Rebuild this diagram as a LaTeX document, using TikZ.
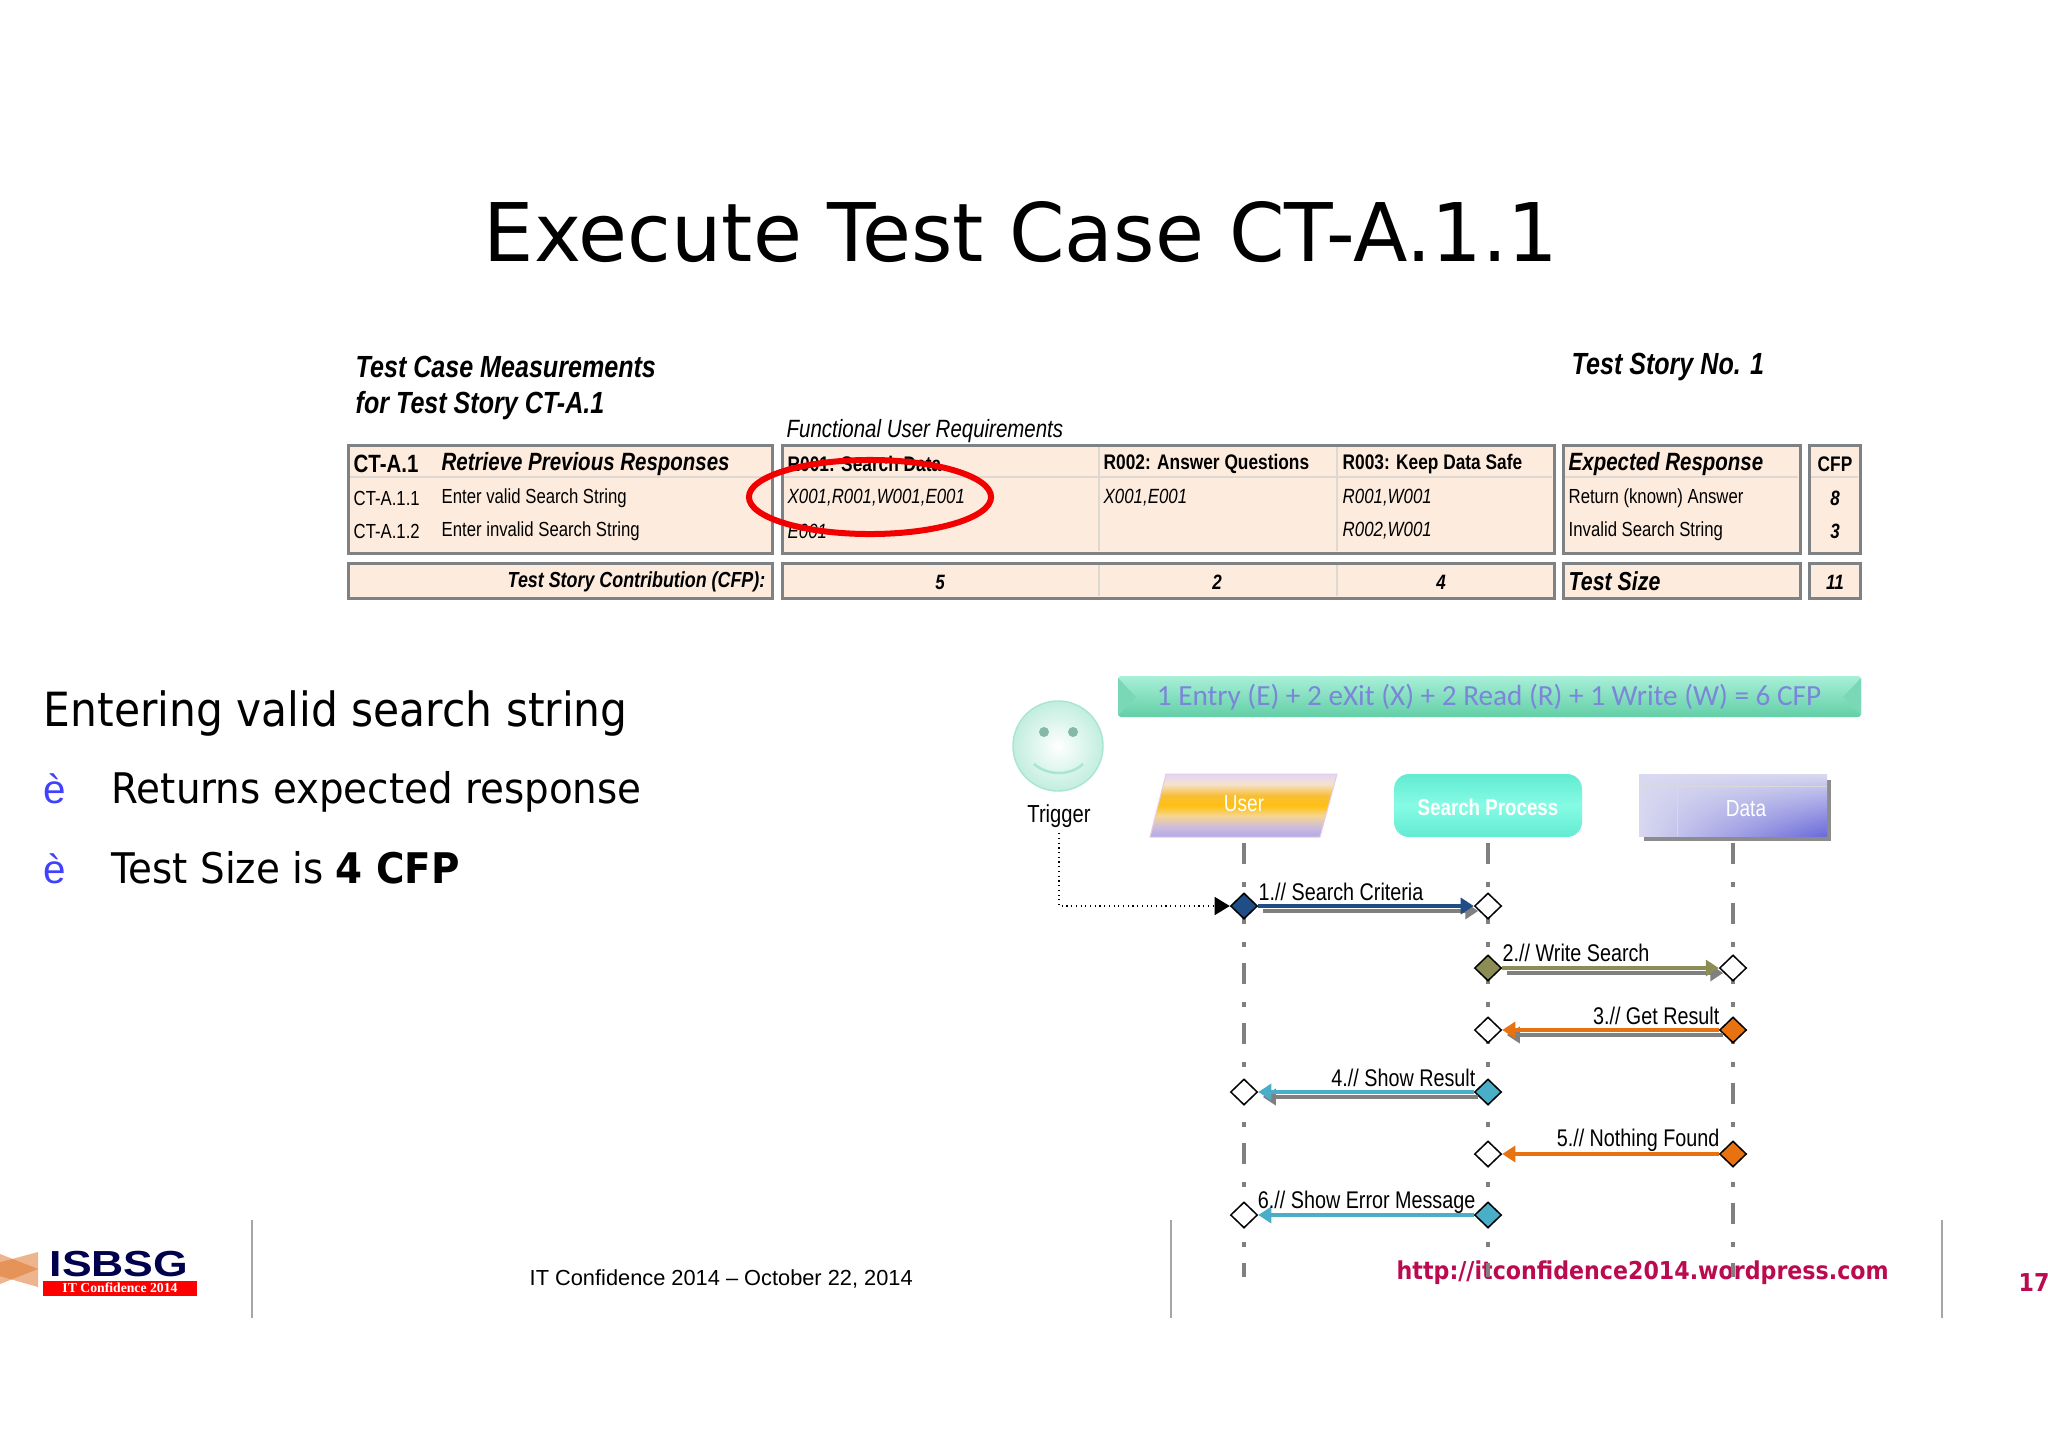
\documentclass[tikz,border=0pt]{standalone}
\usepackage{fontspec}
\setmainfont[FakeStretch=.9]{DejaVu Sans}
\newfontfamily\titlefont[FakeStretch=.984]{DejaVu Sans}
\newfontfamily\slidefont[FakeStretch=.92]{DejaVu Sans}
\newfontfamily\tablefont[FakeStretch=.82]{Liberation Sans}
\newfontfamily\arialfont{Liberation Sans}
\newfontfamily\bannerfont{Carlito}
\newfontfamily\logofont[FakeStretch=1.23]{Liberation Sans}
\newfontfamily\logoserif{Liberation Serif}
\usetikzlibrary{arrows.meta,shapes.geometric,positioning,shadings}
\definecolor{tablefill}{HTML}{FDEBDD}
\definecolor{tableline}{HTML}{7F8284}
\definecolor{tablediv}{HTML}{DDD8D2}
\definecolor{msgnavy}{HTML}{1F4E86}
\definecolor{msgolive}{HTML}{8C8C55}
\definecolor{msgorange}{HTML}{E8720F}
\definecolor{msgteal}{HTML}{4AAEC8}
\definecolor{urlred}{HTML}{BB0A50}
\definecolor{usera}{HTML}{B0A8E8}
\definecolor{userb}{HTML}{CDBCDD}
\definecolor{userc}{HTML}{F6D58E}
\definecolor{userd}{HTML}{FFC010}
\definecolor{usere}{HTML}{F8BE36}
\definecolor{userf}{HTML}{F6E2CC}
\definecolor{userg}{HTML}{E2D4F6}
\definecolor{searcha}{HTML}{62EBD2}
\definecolor{searchb}{HTML}{86FBE4}
\definecolor{bannertop}{HTML}{A8EFD8}
\definecolor{bannerbot}{HTML}{62CFA6}
\definecolor{bannerside}{HTML}{7AD8B6}
\definecolor{bannertext}{HTML}{7B86DA}
\definecolor{datadark}{HTML}{6A6ADA}
\definecolor{datalight}{HTML}{D8D8F0}
\definecolor{smileedge}{HTML}{A8E6D2}
\definecolor{logoorange}{HTML}{E07830}
\pgfdeclareverticalshading{usershade}{100bp}{color(0bp)=(usera);color(25bp)=(usera);color(33bp)=(userb);color(42bp)=(userc);color(50bp)=(userd);color(58bp)=(usere);color(67bp)=(userf);color(75bp)=(userg);color(100bp)=(userg)}
\pgfdeclareverticalshading{searchshade}{100bp}{color(0bp)=(searcha);color(25bp)=(searcha);color(50bp)=(searchb);color(75bp)=(searcha);color(100bp)=(searcha)}

\begin{document}
\begin{tikzpicture}[x=0.01cm,y=-0.01cm]
	\tikzstyle{tblbox}=[draw=tableline,line width=.03cm,fill=tablefill]
	\tikzstyle{tbldiv}=[draw=tablediv,line width=.012cm]
	\tikzstyle{head}=[anchor=west,inner sep=0pt,font=\tablefont\bfseries\itshape\fontsize{8.7}{10}\selectfont]
	\tikzstyle{cellbig}=[anchor=west,inner sep=0pt,font=\tablefont\bfseries\itshape\fontsize{7.1}{8}\selectfont]
	\tikzstyle{cell}=[anchor=west,inner sep=0pt,font=\tablefont\fontsize{5.8}{7}\selectfont]
	\tikzstyle{cellit}=[anchor=west,inner sep=0pt,font=\tablefont\itshape\fontsize{5.85}{7}\selectfont]
	\tikzstyle{cellbf}=[anchor=west,inner sep=0pt,font=\tablefont\bfseries\fontsize{6}{7}\selectfont]
	\tikzstyle{cellnum}=[inner sep=0pt,font=\tablefont\bfseries\itshape\fontsize{5.9}{7}\selectfont]
	\tikzstyle{slide}=[anchor=base west,inner sep=0pt,font=\slidefont\fontsize{12}{16}\selectfont]
	\tikzstyle{bullet}=[anchor=base west,inner sep=0pt,text=blue!75!white,font=\arialfont\fontsize{11.5}{14}\selectfont]
	\tikzstyle{lifeline}=[draw=black!50,line width=.045cm,dash pattern=on .21cm off .18cm on .05cm off .16cm]
	\tikzstyle{point}=[diamond,draw=black,line width=.015cm,minimum width=.27cm,minimum height=.26cm,inner sep=0pt]
	\tikzstyle{msg}=[line width=.035cm,-{Triangle[length=.13cm,width=.16cm]}]
	\tikzstyle{msgshadow}=[msg,draw=black!50,transform canvas={xshift=.045cm,yshift=-.05cm}]
	\tikzstyle{msgtext}=[inner sep=0pt,font=\tablefont\fontsize{6.85}{8}\selectfont]

	\useasboundingbox (0,0) rectangle (2048,1448);
	\fill[white] (0,0) rectangle (2048,1448);

	% heading and slide text
	\node[inner sep=0pt,font=\titlefont\fontsize{23}{28}\selectfont] (title) at (1021,232) {Execute Test Case CT-A.1.1};
	\node[slide,font=\fontsize{13.4}{16}\selectfont] (line1) at (43,726) {Entering valid search string};
	\node[bullet] (bull2) at (43,803) {è};
	\node[slide] (line2) at (111,803) {Returns expected response};
	\node[bullet] (bull3) at (43,883) {è};
	\node[slide] (line3) at (111,883) {Test Size is \textbf{4 CFP}};

	% table
	\foreach \a/\b/\c/\d in {348/445/772/553,782/445/1554/553,1563/445/1800/553,1809/445/1860/553,348/563/772/598,782/563/1554/598,1563/563/1800/598,1809/563/1860/598}
	\draw[tblbox] (\a,\b) rectangle (\c,\d);
	\foreach \a/\b in {348/772,782/1554,1563/1800,1809/1860}
	\draw[tbldiv] (\a+2,477) -- (\b-2,477);
	\foreach \a in {1099,1337}{
		\draw[tbldiv] (\a,447) -- (\a,551);
		\draw[tbldiv] (\a,565) -- (\a,596);
	}

	\node[head] (story) at (355,367) {Test Case Measurements};
	\node[head] (story2) at (355,406) {for Test Story CT-A.1};
	\node[head] (storyno) at (1571,367) {Test Story No. 1};
	\node[anchor=west,inner sep=0pt,font=\tablefont\itshape\fontsize{7.1}{8}\selectfont] (fur) at (786,431) {Functional User Requirements};

	\node[cellbig,font=\tablefont\bfseries\fontsize{7.1}{8}\selectfont] (ca) at (353,464) {CT-A.1};
	\node[cellbig] (cb) at (441,464) {Retrieve Previous Responses};
	\node[cellbf] (r1) at (787,464) {R001: Search Data};
	\node[cellbf] (r2) at (1103,464) {R002: Answer Questions};
	\node[cellbf] (r3) at (1342,464) {R003: Keep Data Safe};
	\node[cellbig] (er) at (1568,464) {Expected Response};
	\node[cellbf,anchor=center] (cfp) at (1835,464) {CFP};

	\foreach \n/\xx/\yy/\t in {a1/353/498/CT-A.1.1,a2/353/531/CT-A.1.2,b1/441/498/Enter valid Search String,b2/441/531/Enter invalid Search String,e1/1568/498/Return (known) Answer,e2/1568/531/Invalid Search String}
	\node[cell] (\n) at (\xx,\yy) {\t};
	\foreach \n/\xx/\yy/\t in {c1/787/498/{X001,R001,W001,E001},c2/787/531/E001,d1/1103/498/{X001,E001},f1/1342/498/{R001,W001},f2/1342/531/{R002,W001}}
	\node[cellit] (\n) at (\xx,\yy) {\t};
	\foreach \n/\xx/\yy/\t in {g1/1835/498/8,g2/1835/531/3,t1/940/582/5,t2/1217/582/2,t3/1441/582/4,t4/1835/582/11}
	\node[cellnum] (\n) at (\xx,\yy) {\t};
	\node[cellnum,anchor=east,font=\tablefont\bfseries\itshape\fontsize{6.2}{7}\selectfont] (contrib) at (766,582) {Test Story Contribution (CFP):};
	\node[cellbig,font=\tablefont\bfseries\itshape\fontsize{7.4}{8}\selectfont] (tsize) at (1568,581) {Test Size};

	\node[ellipse,draw=red!95!black,line width=.06cm,minimum width=2.42cm,minimum height=.74cm,inner sep=0pt] (mark) at (870,497) {};

	% footer
	\node[inner sep=0pt,anchor=west,font=\arialfont\fontsize{6.2}{8}\selectfont] (conf) at (529,1279) {IT Confidence 2014 – October 22, 2014};
	\node[inner sep=0pt,anchor=west,text=urlred,font=\bfseries\fontsize{7}{9}\selectfont] (url) at (1396,1273) {http://itconfidence2014.wordpress.com};
	\node[inner sep=0pt,anchor=west,text=urlred,font=\bfseries\fontsize{7}{9}\selectfont] (page) at (2018,1283) {17};
	\foreach \a in {252,1171,1942}
	\draw[black!35,line width=.012cm] (\a,1220) -- (\a,1318);

	\fill[logoorange,opacity=.55] (38,1252) -- (38,1287) -- (-25,1269) -- cycle;
	\fill[logoorange,opacity=.55] (-10,1250) -- (38,1269) -- (-10,1288) -- cycle;
	\node[inner sep=0pt,text=blue!30!black,font=\logofont\bfseries\fontsize{10.3}{12}\selectfont] (logo) at (119,1264) {ISBSG};
	\node[fill=red,minimum width=1.54cm,minimum height=.15cm,inner sep=0pt,text=white,font=\logoserif\bfseries\fontsize{3.9}{4}\selectfont] (logotag) at (120,1288) {IT Confidence 2014};

	% banner
	\shade[rounded corners=.03cm,top color=bannertop,bottom color=bannerbot] (1118,676) rectangle (1861,717);
	\fill[bannerside] (1118,678) -- (1136,697) -- (1118,715) -- cycle;
	\fill[bannerside] (1861,678) -- (1843,697) -- (1861,715) -- cycle;
	\node[inner sep=0pt,text=bannertext,font=\bannerfont\fontsize{8.3}{10}\selectfont] (sum) at (1489,697) {1 Entry (E) + 2 eXit (X) + 2 Read (R) + 1 Write (W) = 6 CFP};

	% actors
	\node[ellipse,draw=smileedge,inner color=white,outer color=smileedge!70!white,minimum width=.9cm,minimum height=.9cm,inner sep=0pt] (smile) at (1058,746) {};
	\fill[smileedge!80!black] (1044,732) circle (5);
	\fill[smileedge!80!black] (1073,732) circle (5);
	\draw[smileedge,line width=.025cm] (1034,764) .. controls (1048,776) and (1070,776) .. (1083,764);
	\node[msgtext,font=\tablefont\fontsize{7}{8}\selectfont] (trigger) at (1059,816) {Trigger};

	\shade[shading=usershade,draw=violet!20!white,line width=.01cm] (1166,774) -- (1337,774) -- (1320,837) -- (1150,837) -- cycle;
	\node[inner sep=0pt,text=white,font=\tablefont\fontsize{6.6}{8}\selectfont] (user) at (1244,804) {User};

	\shade[shading=searchshade,rounded corners=.15cm] (1394,774) rectangle (1582,837);
	\node[inner sep=0pt,text=white,font=\tablefont\bfseries\fontsize{6.5}{8}\selectfont] (search) at (1488,807) {Search Process};

	\fill[black!45] (1644,780) rectangle (1831,841);
	\shade[upper left=datalight,upper right=datalight,lower left=datalight,lower right=datadark] (1639,774) rectangle (1827,836);
	\draw[white!85!black,line width=.01cm] (1639,786) -- (1827,786);
	\draw[white!85!black,line width=.01cm] (1677,774) -- (1677,836);
	\node[inner sep=0pt,text=white,font=\tablefont\fontsize{6.6}{8}\selectfont] (data) at (1746,809) {Data};

	% lifelines
	\coordinate (userend) at (1244,1277);
	\coordinate (searchend) at (1488,1277);
	\coordinate (dataend) at (1733,1277);
	\coordinate (usertop) at (1244,843);
	\coordinate (searchtop) at (1488,843);
	\coordinate (datatop) at (1733,843);
	\foreach \i in {user,search,data}
	\draw[lifeline] (\i top) -- (\i end);

	% messages
	\foreach \n/\xx/\yy/\c in {p1/1244/906/msgnavy,q1/1488/906/white,p2/1488/968/msgolive,q2/1733/968/white,p3/1733/1030/msgorange,q3/1488/1030/white,p4/1488/1092/msgteal,q4/1244/1092/white,p5/1733/1154/msgorange,q5/1488/1154/white,p6/1488/1215/msgteal,q6/1244/1215/white}
	\node[point,fill=\c] (\n) at (\xx,\yy) {};

	\foreach \i/\j in {p1/q1,p2/q2,p3/q3,p4/q4}
	\draw[msgshadow] (\i) -- (\j);
	\foreach \i/\j/\c in {p1/q1/msgnavy,p2/q2/msgolive,p3/q3/msgorange,p4/q4/msgteal,p5/q5/msgorange,p6/q6/msgteal}
	\draw[msg,draw=\c] (\i) -- (\j);

	\node[msgtext,anchor=west] (m1) at (1258,892) {1.// Search Criteria};
	\node[msgtext,anchor=west] (m2) at (1502,953) {2.// Write Search};
	\node[msgtext,anchor=east] (m3) at (1720,1016) {3.// Get Result};
	\node[msgtext,anchor=east] (m4) at (1476,1078) {4.// Show Result};
	\node[msgtext,anchor=east] (m5) at (1720,1140) {5.// Nothing Found};
	\node[msgtext,anchor=east] (m6) at (1476,1202) {6.// Show Error Message};

	\draw[densely dotted,line width=.012cm,-{Triangle[length=.15cm,width=.18cm]}] (trigger.south)+(0,5) |- (p1.west);
\end{tikzpicture}
\end{document}
